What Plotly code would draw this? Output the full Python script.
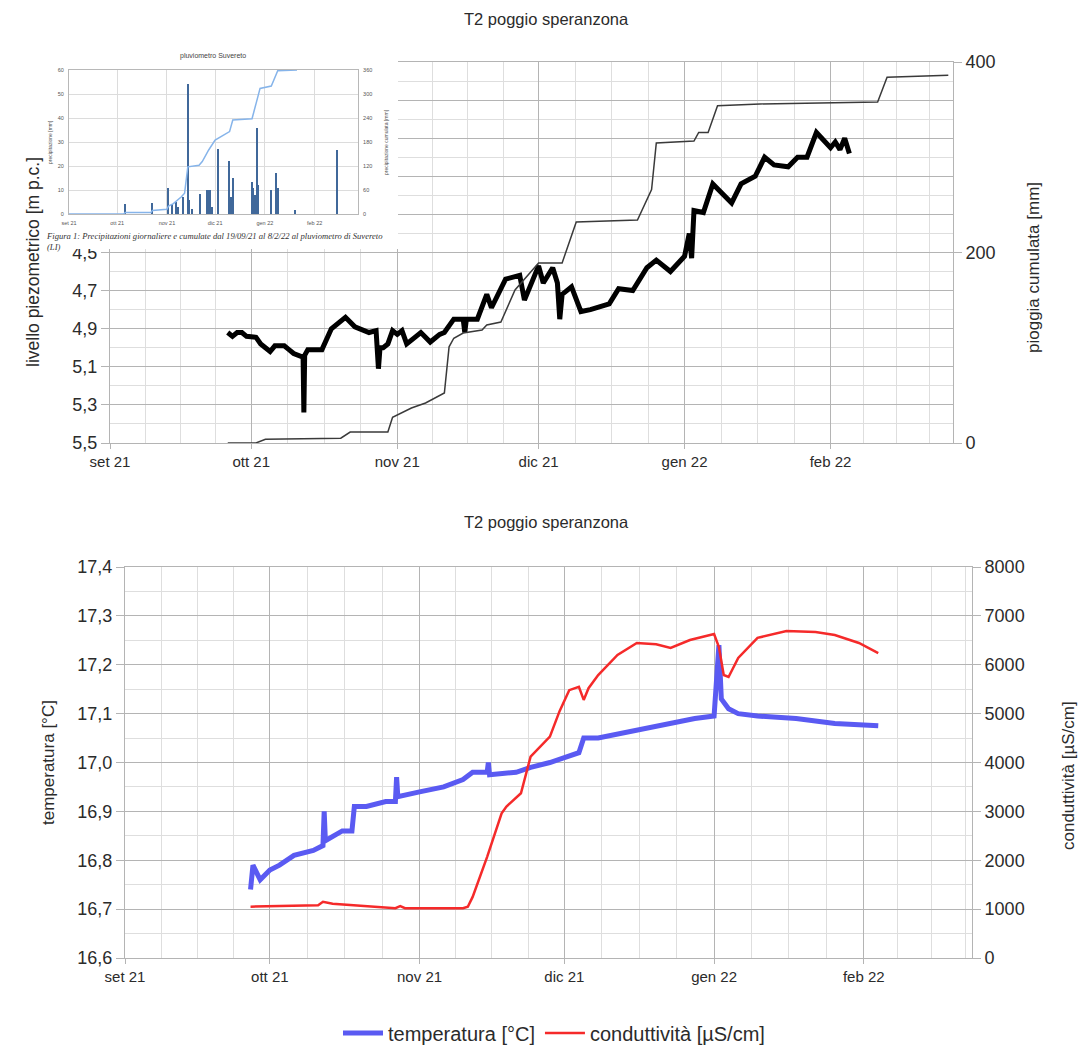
import plotly.graph_objects as go
import pandas as pd

W, H = 1089, 1047

# ---------------- data ----------------
mesi_tickvals = ["2021-09-01", "2021-10-01", "2021-11-01", "2021-12-01", "2022-01-01", "2022-02-01"]
mesi_ticktext = ["set 21", "ott 21", "nov 21", "dic 21", "gen 22", "feb 22"]

# left axis of the upper chart: labels 3,5 ... 4,3 are hidden behind the inset picture
livello_tickvals = [3.5, 3.7, 3.9, 4.1, 4.3, 4.5, 4.7, 4.9, 5.1, 5.3, 5.5]
livello_ticktext = ["", "", "", "", "", "4,5", "4,7", "4,9", "5,1", "5,3", "5,5"]

# T2 poggio speranzona - livello piezometrico [m p.c.]
livello_date = [
    "2021-09-26", "2021-09-27", "2021-09-28", "2021-09-29", "2021-09-30", "2021-10-02",
    "2021-10-03", "2021-10-05", "2021-10-06", "2021-10-08", "2021-10-09", "2021-10-10",
    "2021-10-12 00:00", "2021-10-12 04:00", "2021-10-12 08:00", "2021-10-13", "2021-10-16",
    "2021-10-18", "2021-10-21", "2021-10-23", "2021-10-26", "2021-10-27 12:00",
    "2021-10-28 00:00", "2021-10-28 08:00", "2021-10-29", "2021-10-30", "2021-10-31",
    "2021-11-01", "2021-11-02", "2021-11-03", "2021-11-05", "2021-11-06", "2021-11-08",
    "2021-11-10", "2021-11-11", "2021-11-13", "2021-11-15 00:00", "2021-11-15 08:00",
    "2021-11-15 16:00", "2021-11-18", "2021-11-20", "2021-11-21", "2021-11-24", "2021-11-27",
    "2021-11-28", "2021-12-01", "2021-12-02", "2021-12-04", "2021-12-05 00:00",
    "2021-12-05 12:00", "2021-12-06", "2021-12-08", "2021-12-10", "2021-12-12", "2021-12-16",
    "2021-12-18", "2021-12-21", "2021-12-24", "2021-12-26", "2021-12-29", "2022-01-01",
    "2022-01-02 00:00", "2022-01-02 12:00", "2022-01-03", "2022-01-05", "2022-01-07",
    "2022-01-09", "2022-01-11", "2022-01-13", "2022-01-16", "2022-01-18", "2022-01-20",
    "2022-01-23", "2022-01-25", "2022-01-27", "2022-01-29", "2022-02-01", "2022-02-02",
    "2022-02-03", "2022-02-04", "2022-02-05",
]
livello_m = [
    4.92, 4.94, 4.92, 4.92, 4.94, 4.945,
    4.98, 5.02, 4.99, 4.99, 5.01, 5.03,
    5.05, 5.34, 5.04, 5.01, 5.01,
    4.90, 4.84, 4.89, 4.92, 4.91,
    5.11, 5.00, 5.00, 4.98, 4.91,
    4.93, 4.91, 4.98, 4.94, 4.92, 4.97,
    4.93, 4.92, 4.85, 4.85, 4.92,
    4.85, 4.85, 4.72, 4.79, 4.64, 4.62,
    4.75, 4.57, 4.66, 4.58, 4.66,
    4.85, 4.72, 4.68, 4.81, 4.80, 4.77,
    4.69, 4.70, 4.58, 4.54, 4.60, 4.52,
    4.40, 4.53, 4.28, 4.29, 4.14,
    4.19, 4.24, 4.14, 4.10, 4.00, 4.04,
    4.05, 4.00, 4.00, 3.87, 3.95, 3.92,
    3.96, 3.90, 3.98,
]

# pioggia cumulata [mm]
pioggia_date = [
    "2021-09-26", "2021-10-02", "2021-10-04", "2021-10-20", "2021-10-22", "2021-10-30",
    "2021-10-31", "2021-11-02", "2021-11-04", "2021-11-07", "2021-11-11", "2021-11-12",
    "2021-11-13", "2021-11-15", "2021-11-19", "2021-11-20", "2021-11-23", "2021-11-26",
    "2021-12-01", "2021-12-06", "2021-12-07", "2021-12-09", "2021-12-22", "2021-12-25",
    "2021-12-26", "2022-01-03", "2022-01-04", "2022-01-06", "2022-01-08", "2022-01-17",
    "2022-02-11", "2022-02-13", "2022-02-26",
]
pioggia_cum_mm = [
    0, 0, 4, 5, 11.5, 11.5,
    27, 31.5, 36.7, 42, 52.5, 101,
    110, 115.5, 118.7, 124, 127, 160.6,
    189, 189, 203, 232, 234, 266,
    315, 317, 326, 326, 354, 356,
    358, 384, 386,
]

# temperatura [°C]
temp_date = [
    "2021-09-27 00:00", "2021-09-27 12:00", "2021-09-29", "2021-10-01", "2021-10-03",
    "2021-10-06", "2021-10-10", "2021-10-12 00:00", "2021-10-12 06:00", "2021-10-12 12:00",
    "2021-10-16", "2021-10-18 00:00", "2021-10-18 12:00", "2021-10-21", "2021-10-25",
    "2021-10-27 00:00", "2021-10-27 06:00", "2021-10-27 12:00", "2021-11-01", "2021-11-06",
    "2021-11-10", "2021-11-12", "2021-11-15 00:00", "2021-11-15 06:00", "2021-11-15 12:00",
    "2021-11-21", "2021-11-24", "2021-11-28", "2021-12-04", "2021-12-05", "2021-12-08",
    "2021-12-18", "2021-12-28", "2022-01-01", "2022-01-02 00:00", "2022-01-02 12:00",
    "2022-01-04", "2022-01-06", "2022-01-10", "2022-01-18", "2022-01-26", "2022-02-04",
]
temp_c = [
    16.74, 16.79, 16.76, 16.78, 16.79,
    16.81, 16.82, 16.83, 16.90, 16.84,
    16.86, 16.86, 16.91, 16.91, 16.92,
    16.92, 16.97, 16.93, 16.94, 16.95,
    16.965, 16.98, 16.98, 17.00, 16.975,
    16.98, 16.99, 17.00, 17.02, 17.05, 17.05,
    17.07, 17.09, 17.095, 17.24, 17.13,
    17.11, 17.10, 17.095, 17.09, 17.08, 17.075,
]

# conduttività [µS/cm]
cond_date = [
    "2021-09-27", "2021-10-11", "2021-10-12", "2021-10-14", "2021-10-27", "2021-10-28",
    "2021-10-29", "2021-11-10", "2021-11-11", "2021-11-12", "2021-11-15", "2021-11-18",
    "2021-11-19", "2021-11-22", "2021-11-24", "2021-11-28", "2021-11-30", "2021-12-02",
    "2021-12-04", "2021-12-05", "2021-12-06", "2021-12-08", "2021-12-12", "2021-12-16",
    "2021-12-20", "2021-12-23", "2021-12-27", "2022-01-01", "2022-01-02", "2022-01-03",
    "2022-01-04", "2022-01-06", "2022-01-10", "2022-01-16", "2022-01-22", "2022-01-26",
    "2022-01-31", "2022-02-04",
]
cond_uscm = [
    1050, 1080, 1150, 1110, 1020, 1060,
    1020, 1020, 1050, 1250, 2070, 2960,
    3100, 3370, 4120, 4530, 5050, 5480,
    5550, 5280, 5520, 5790, 6200, 6445,
    6420, 6343, 6506, 6630, 6360, 5790,
    5750, 6140, 6550, 6690, 6670, 6610,
    6445, 6240,
]

# inset: pluviometro Suvereto
prec_date = [
    "2021-10-06", "2021-10-23", "2021-11-02", "2021-11-04", "2021-11-07", "2021-11-08",
    "2021-11-11", "2021-11-14", "2021-11-15", "2021-11-17", "2021-11-22", "2021-11-26",
    "2021-11-27", "2021-11-28", "2021-11-29", "2021-12-03", "2021-12-10", "2021-12-11",
    "2021-12-12", "2021-12-24", "2021-12-25", "2021-12-26", "2021-12-27", "2021-12-28",
    "2022-01-05", "2022-01-08", "2022-01-09", "2022-01-20", "2022-02-15",
]
prec_mm = [
    4, 4.5, 11, 4, 5, 3,
    7, 54, 6, 2, 8.5, 10,
    10, 10, 3, 27, 22, 7,
    15, 13.5, 11, 8, 36, 12,
    10, 17, 11, 1.5, 26.5,
]
prec_cum_date = [
    "2021-09-01", "2021-10-05", "2021-10-06", "2021-10-22", "2021-10-23", "2021-11-01",
    "2021-11-02", "2021-11-05", "2021-11-10", "2021-11-12", "2021-11-14", "2021-11-21",
    "2021-11-23", "2021-11-27", "2021-12-01", "2021-12-04", "2021-12-10", "2021-12-12",
    "2021-12-24", "2021-12-29", "2022-01-05", "2022-01-09", "2022-01-21",
]
prec_cum_mm = [
    0, 0, 4, 4, 9, 12,
    20, 26, 43, 52, 118, 122,
    131, 160, 185, 192, 206, 235,
    238, 314, 320, 358, 360,
]

# ---------------- styling helpers ----------------
FONT = "Liberation Sans, Arial, sans-serif"
SERIF = "Liberation Serif, Times New Roman, serif"
TXT = "#2b2b2b"
GRID = "#b4b4b4"
MINOR = "#dedede"


def px_x(p):
    return p / W


def px_y(p):
    return 1 - p / H


def quarter_ticks(start, end):
    months = pd.date_range(start, end, freq="MS")
    vals = []
    for a, b in zip(months[:-1], months[1:]):
        step = (b - a) / 4
        for k in (1, 2, 3):
            vals.append((a + k * step).strftime("%Y-%m-%d %H:%M:%S"))
    return vals


quarters = quarter_ticks("2021-09-01", "2022-03-01")

fig = go.Figure()

# ---- top chart ----
fig.add_trace(go.Scatter(x=livello_date, y=livello_m, mode="lines", xaxis="x", yaxis="y",
                         line=dict(color="#000000", width=5), showlegend=False,
                         name="livello piezometrico"))
fig.add_trace(go.Scatter(x=pioggia_date, y=pioggia_cum_mm, mode="lines", xaxis="x", yaxis="y2",
                         line=dict(color="#3a3a3a", width=1.5), showlegend=False,
                         name="pioggia cumulata"))

# ---- bottom chart ----
fig.add_trace(go.Scatter(x=temp_date, y=temp_c, mode="lines", xaxis="x2", yaxis="y3",
                         line=dict(color="#5a5af2", width=5), name="temperatura [°C]"))
fig.add_trace(go.Scatter(x=cond_date, y=cond_uscm, mode="lines", xaxis="x2", yaxis="y4",
                         line=dict(color="#f52a2a", width=2.5), name="conduttività [µS/cm]"))

# ---- white cover behind inset ----
fig.add_trace(go.Scatter(x=[0, 1, 1, 0, 0], y=[0, 0, 1, 1, 0], mode="lines", fill="toself",
                         fillcolor="#ffffff", line=dict(width=0, color="#ffffff"),
                         xaxis="x3", yaxis="y5", showlegend=False, hoverinfo="skip"))

# ---- inset ----
fig.add_trace(go.Bar(x=prec_date, y=prec_mm, xaxis="x4", yaxis="y6", marker_color="#40689a",
                     marker_line_width=0, width=86400000 * 0.9, showlegend=False,
                     name="precipitazione"))
fig.add_trace(go.Scatter(x=prec_cum_date, y=prec_cum_mm, mode="lines", xaxis="x4", yaxis="y7",
                         line=dict(color="#86b4ea", width=1.5), showlegend=False,
                         name="precipitazione cumulata"))

tick_y = dict(family=FONT, size=18, color=TXT)
tick_x = dict(family=FONT, size=15, color=TXT)
inset_tick = dict(family=FONT, size=5.5, color="#555")

fig.update_layout(
    template="none",
    width=W, height=H, margin=dict(l=0, r=0, t=0, b=0, pad=0, autoexpand=False),
    paper_bgcolor="white", plot_bgcolor="white",
    separators=",.",
    font=dict(family=FONT, color=TXT),
    bargap=0,
    xaxis=dict(domain=[px_x(110), px_x(953)], anchor="y", type="date", automargin=False,
               range=["2021-09-01", "2022-02-27"],
               tickmode="array", tickvals=mesi_tickvals, ticktext=mesi_ticktext,
               showgrid=True, gridcolor=GRID, gridwidth=1,
               minor=dict(tickmode="array", tickvals=quarters, showgrid=True, gridcolor=MINOR),
               showline=True, linecolor=GRID, mirror=True,
               ticks="outside", ticklen=5, tickcolor=GRID, tickfont=tick_x, zeroline=False),
    yaxis=dict(domain=[px_y(443), px_y(62)], anchor="x", range=[5.5, 3.5], automargin=False,
               tickmode="array", tickvals=livello_tickvals, ticktext=livello_ticktext,
               showgrid=True, gridcolor=GRID,
               minor=dict(tick0=3.5, dtick=0.1, showgrid=True, gridcolor=MINOR),
               showline=True, linecolor=GRID, ticks="outside", ticklen=8, tickcolor=GRID,
               tickfont=tick_y, zeroline=False),
    yaxis2=dict(overlaying="y", side="right", anchor="x", range=[0, 400], automargin=False,
                tickmode="linear", tick0=0, dtick=200, showgrid=False,
                showline=True, linecolor=GRID, ticks="outside", ticklen=8, tickcolor=GRID,
                tickfont=tick_y, zeroline=False),
    xaxis2=dict(domain=[px_x(125), px_x(972)], anchor="y3", type="date", automargin=False,
                range=["2021-09-01", "2022-02-23 10:00"],
                tickmode="array", tickvals=mesi_tickvals, ticktext=mesi_ticktext,
                showgrid=True, gridcolor=GRID,
                minor=dict(tickmode="array", tickvals=quarters, showgrid=True, gridcolor=MINOR),
                showline=True, linecolor=GRID, mirror=True,
                ticks="outside", ticklen=5, tickcolor=GRID, tickfont=tick_x, zeroline=False),
    yaxis3=dict(domain=[px_y(958), px_y(567)], anchor="x2", range=[16.6, 17.4],
                automargin=False,
                tickmode="linear", tick0=16.6, dtick=0.1, tickformat=".1f",
                showgrid=True, gridcolor=GRID,
                minor=dict(tick0=16.6, dtick=0.05, showgrid=True, gridcolor=MINOR),
                showline=True, linecolor=GRID, ticks="outside", ticklen=8, tickcolor=GRID,
                tickfont=tick_y, zeroline=False),
    yaxis4=dict(overlaying="y3", side="right", anchor="x2", range=[0, 8000], automargin=False,
                tickmode="linear", tick0=0, dtick=1000, showgrid=False,
                showline=True, linecolor=GRID, ticks="outside", ticklen=8, tickcolor=GRID,
                tickfont=tick_y, zeroline=False),
    xaxis3=dict(domain=[px_x(33), px_x(398)], anchor="y5", range=[0, 1], visible=False,
                fixedrange=True, automargin=False),
    yaxis5=dict(domain=[px_y(249), px_y(46)], anchor="x3", range=[0, 1], visible=False,
                fixedrange=True, automargin=False),
    xaxis4=dict(domain=[px_x(69), px_x(358)], anchor="y6", type="date", automargin=False,
                range=["2021-09-01", "2022-02-28"],
                tickmode="array", tickvals=mesi_tickvals, ticktext=mesi_ticktext,
                showgrid=True, gridcolor="#dcdcdc", showline=True, linecolor="#b8b8b8",
                mirror=True, ticks="", tickfont=inset_tick, zeroline=False,
                ticklabelstandoff=3),
    yaxis6=dict(domain=[px_y(214), px_y(70)], anchor="x4", range=[0, 60], automargin=False,
                tickmode="linear", tick0=0, dtick=10, showgrid=True, gridcolor="#dcdcdc",
                showline=True, linecolor="#b8b8b8", ticks="",
                tickfont=inset_tick, zeroline=False, ticklabelstandoff=3),
    yaxis7=dict(overlaying="y6", side="right", anchor="x4", range=[0, 360], automargin=False,
                tickmode="linear", tick0=0, dtick=60, showgrid=False,
                showline=True, linecolor="#b8b8b8", ticks="",
                tickfont=inset_tick, zeroline=False, ticklabelstandoff=3),
    legend=dict(orientation="h", x=px_x(554), xanchor="center", y=px_y(1033),
                yanchor="middle", font=dict(family=FONT, size=20, color=TXT),
                bgcolor="rgba(0,0,0,0)", itemwidth=40),
)

annotations = [
    # chart titles
    dict(text="T2 poggio speranzona", x=px_x(546), y=px_y(19), xref="paper", yref="paper",
         showarrow=False, font=dict(family=FONT, size=16.5, color=TXT), xanchor="center",
         yanchor="middle"),
    dict(text="T2 poggio speranzona", x=px_x(546), y=px_y(522), xref="paper", yref="paper",
         showarrow=False, font=dict(family=FONT, size=16.5, color=TXT), xanchor="center",
         yanchor="middle"),
    # axis titles
    dict(text="livello piezometrico [m p.c.]", x=px_x(33), y=px_y(262), xref="paper",
         yref="paper", showarrow=False, textangle=-90,
         font=dict(family=FONT, size=17.5, color=TXT), xanchor="center", yanchor="middle"),
    dict(text="pioggia cumulata [mm]", x=px_x(1033), y=px_y(268), xref="paper", yref="paper",
         showarrow=False, textangle=-90, font=dict(family=FONT, size=17, color=TXT),
         xanchor="center", yanchor="middle"),
    dict(text="temperatura [°C]", x=px_x(48), y=px_y(763), xref="paper", yref="paper",
         showarrow=False, textangle=-90, font=dict(family=FONT, size=17, color=TXT),
         xanchor="center", yanchor="middle"),
    dict(text="conduttività [µS/cm]", x=px_x(1068), y=px_y(776), xref="paper", yref="paper",
         showarrow=False, textangle=-90, font=dict(family=FONT, size=17, color=TXT),
         xanchor="center", yanchor="middle"),
    # inset texts
    dict(text="pluviometro Suvereto", x=px_x(213), y=px_y(56), xref="paper", yref="paper",
         showarrow=False, font=dict(family=FONT, size=7, color="#444"), xanchor="center",
         yanchor="middle"),
    dict(text="precipitazione [mm]", x=px_x(50), y=px_y(142), xref="paper", yref="paper",
         showarrow=False, textangle=-90, font=dict(family=FONT, size=5, color="#555"),
         xanchor="center", yanchor="middle"),
    dict(text="precipitazione cumulata [mm]", x=px_x(386), y=px_y(142), xref="paper",
         yref="paper", showarrow=False, textangle=-90,
         font=dict(family=FONT, size=5, color="#555"), xanchor="center", yanchor="middle"),
    dict(text="<i>Figura 1: Precipitazioni giornaliere e cumulate dal 19/09/21 al 8/2/22 al "
              "pluviometro di Suvereto<br>(LI)</i>",
         x=px_x(45), y=px_y(230), xref="paper", yref="paper", showarrow=False, align="left",
         font=dict(family=SERIF, size=8.6, color="#333"), xanchor="left", yanchor="top",
         borderpad=0),
]
fig.update_layout(annotations=annotations)

fig.write_html("out.html")
